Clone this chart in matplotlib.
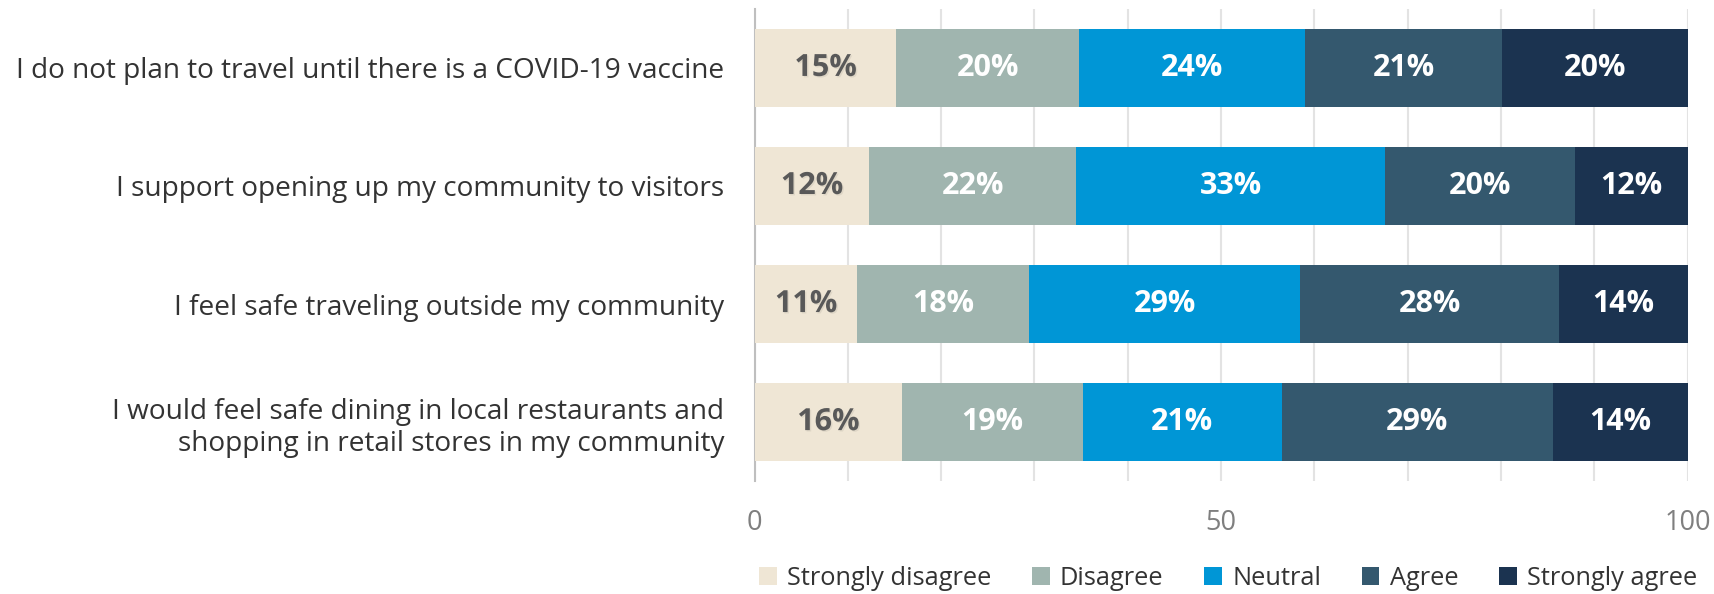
import matplotlib.pyplot as plt
import matplotlib.patheffects as pe
import numpy as np

categories = [
    'I do not plan to travel until there is a COVID-19 vaccine',
    'I support opening up my community to visitors',
    'I feel safe traveling outside my community',
    'I would feel safe dining in local restaurants and\nshopping in retail stores in my community',
]
series = ['Strongly disagree', 'Disagree', 'Neutral', 'Agree', 'Strongly agree']
strongly_disagree = [15.2, 12.3, 11.0, 15.8]
disagree = [19.6, 22.2, 18.4, 19.4]
neutral = [24.2, 33.1, 29.1, 21.3]
agree = [21.1, 20.3, 27.7, 29.1]
strongly_agree = [19.9, 12.1, 13.8, 14.4]
colors = ['#EFE6D5', '#A0B5AF', '#0096D6', '#34586E', '#1B3350']
text_colors = ['#595959', 'white', 'white', 'white', 'white']

plt.rcParams['font.family'] = ['Open Sans', 'DejaVu Sans']

fig = plt.figure(figsize=(17.15, 5.94), dpi=100)
ax = fig.add_axes([0.440, 0.190, 0.544, 0.795])

y = np.arange(len(categories))
left = np.zeros(len(categories))
for name, vals, c, tc in zip(series, [strongly_disagree, disagree, neutral, agree, strongly_agree],
                             colors, text_colors):
    vals = np.array(vals)
    ax.barh(y, vals, left=left, height=0.66, color=c, label=name, zorder=3)
    for yi, l, v in zip(y, left, vals):
        t = ax.text(l + v / 2, yi, f'{v:.0f}%', ha='center', va='center',
                    color=tc, fontsize=22, fontweight='bold', zorder=4)
        if tc != 'white':
            t.set_path_effects([pe.withSimplePatchShadow(offset=(1, -1), alpha=0.08)])
    left += vals

ax.set_xlim(0, 100)
ax.set_ylim(3.5, -0.5)
ax.set_yticks(y)
ax.set_yticklabels(categories, fontsize=20.2, color='#333333')
ax.set_xticks([0, 50, 100])
ax.set_xticks(np.arange(0, 101, 10), minor=True)
ax.grid(axis='x', which='both', color='#E3E3E3', linewidth=1.5, zorder=0)
ax.tick_params(axis='x', which='both', length=0, labelsize=19.5, labelcolor='#7F7F7F', pad=20)
ax.tick_params(axis='y', length=0, pad=22)
for s in ['top', 'right', 'bottom']:
    ax.spines[s].set_visible(False)
ax.spines['left'].set_color('#BFBFBF')
ax.spines['left'].set_linewidth(1.5)

handles, labels = ax.get_legend_handles_labels()
leg = fig.legend(handles, labels, loc='center', bbox_to_anchor=(0.716, 0.026), ncol=5,
                 frameon=False, fontsize=18.3, handlelength=0.7, handleheight=0.7,
                 handletextpad=0.4, columnspacing=1.6)
for t in leg.get_texts():
    t.set_color('#333333')

fig.savefig('out.png', dpi=100)
